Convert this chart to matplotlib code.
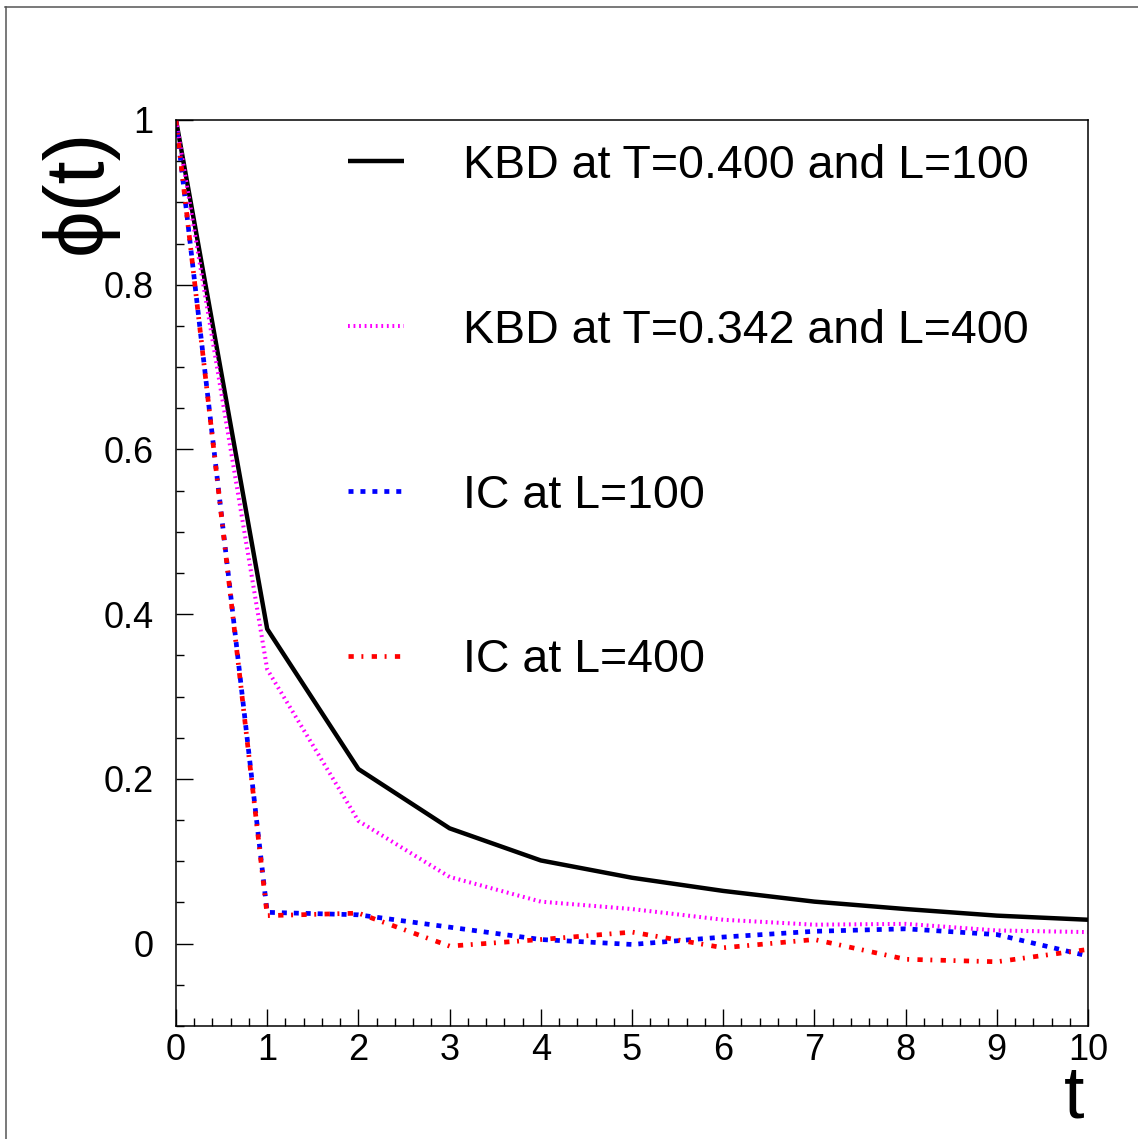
import matplotlib
matplotlib.use('Agg')
import matplotlib.pyplot as plt
from matplotlib.lines import Line2D
from matplotlib.ticker import MultipleLocator, FuncFormatter

plt.rcParams['font.family'] = ['Liberation Sans', 'DejaVu Sans']
plt.rcParams['mathtext.fontset'] = 'custom'
plt.rcParams['mathtext.rm'] = 'Liberation Sans'
plt.rcParams['lines.scale_dashes'] = False

# data
t = [0, 1, 2, 3, 4, 5, 6, 7, 8, 9, 10]
kbd_T0400_L100 = [1.0, 0.382, 0.212, 0.140, 0.101, 0.080, 0.064, 0.051, 0.042, 0.034, 0.029]
kbd_T0342_L400 = [1.0, 0.333, 0.149, 0.081, 0.051, 0.042, 0.029, 0.023, 0.024, 0.016, 0.014]
ic_L100 = [1.0, 0.038, 0.035, 0.020, 0.005, -0.001, 0.008, 0.015, 0.018, 0.011, -0.015]
ic_L400 = [1.0, 0.034, 0.037, -0.003, 0.005, 0.014, -0.005, 0.005, -0.019, -0.022, -0.007]

labels = ['KBD at T=0.400 and L=100', 'KBD at T=0.342 and L=400',
          'IC at L=100', 'IC at L=400']

fig = plt.figure(figsize=(11.38, 11.39), dpi=100)
ax = fig.add_axes([176 / 1138, 1 - 1026 / 1139, 912 / 1138, 906 / 1139])

l1, = ax.plot(t, kbd_T0400_L100, color='black', lw=3.2, solid_capstyle='butt')
l2, = ax.plot(t, kbd_T0342_L400, color='#ff00ff', lw=2.9, dashes=(1.3, 2.7))
l3, = ax.plot(t, ic_L100, color='#0000ff', lw=3.4, dashes=(3.6, 5.0))
l4, = ax.plot(t, ic_L400, color='#ff0000', lw=3.4, dashes=(3.8, 5.5, 1.4, 6.0))

ax.set_xlim(0, 10)
ax.set_ylim(-0.1, 1.0)

ax.xaxis.set_major_locator(MultipleLocator(1))
ax.xaxis.set_minor_locator(MultipleLocator(0.2))
ax.yaxis.set_major_locator(MultipleLocator(0.2))
ax.yaxis.set_minor_locator(MultipleLocator(0.05))
ax.yaxis.set_major_formatter(FuncFormatter(lambda v, p: '%g' % round(v, 3)))

ax.tick_params(which='both', direction='in', top=False, right=False, width=1.0,
               labelsize=26)
ax.tick_params(which='major', length=12)
ax.tick_params(which='minor', length=5.8)
ax.tick_params(axis='x', pad=5)
ax.tick_params(axis='y', pad=16)
for s in ax.spines.values():
    s.set_linewidth(1.1)

# mathtext keeps the bbox tight to the glyph so it does not run into "10"
ax.set_xlabel(r'$\mathrm{t}$', fontsize=53, ha='right', va='baseline')
ax.xaxis.set_label_coords(0.997, -0.101)
ax.set_ylabel('ϕ(t)', fontsize=60, ha='right', va='bottom')
ax.yaxis.set_label_coords(-0.064, 0.99)

ax.legend([l1, l2, l3, l4], labels, loc='upper left', bbox_to_anchor=(0.1886, 0.974),
          frameon=False, fontsize=33.5, handlelength=1.2, handletextpad=1.27,
          labelspacing=2.6, borderpad=0, borderaxespad=0)

# canvas frame (only top and left visible in the reference)
fig.add_artist(Line2D([5 / 1138, 1.0], [1 - 6.5 / 1139, 1 - 6.5 / 1139],
                      transform=fig.transFigure, color='#555555', lw=1.1))
fig.add_artist(Line2D([5.5 / 1138, 5.5 / 1138], [0.0, 1 - 6.5 / 1139],
                      transform=fig.transFigure, color='#555555', lw=1.1))

fig.savefig('out.png', dpi=100)
